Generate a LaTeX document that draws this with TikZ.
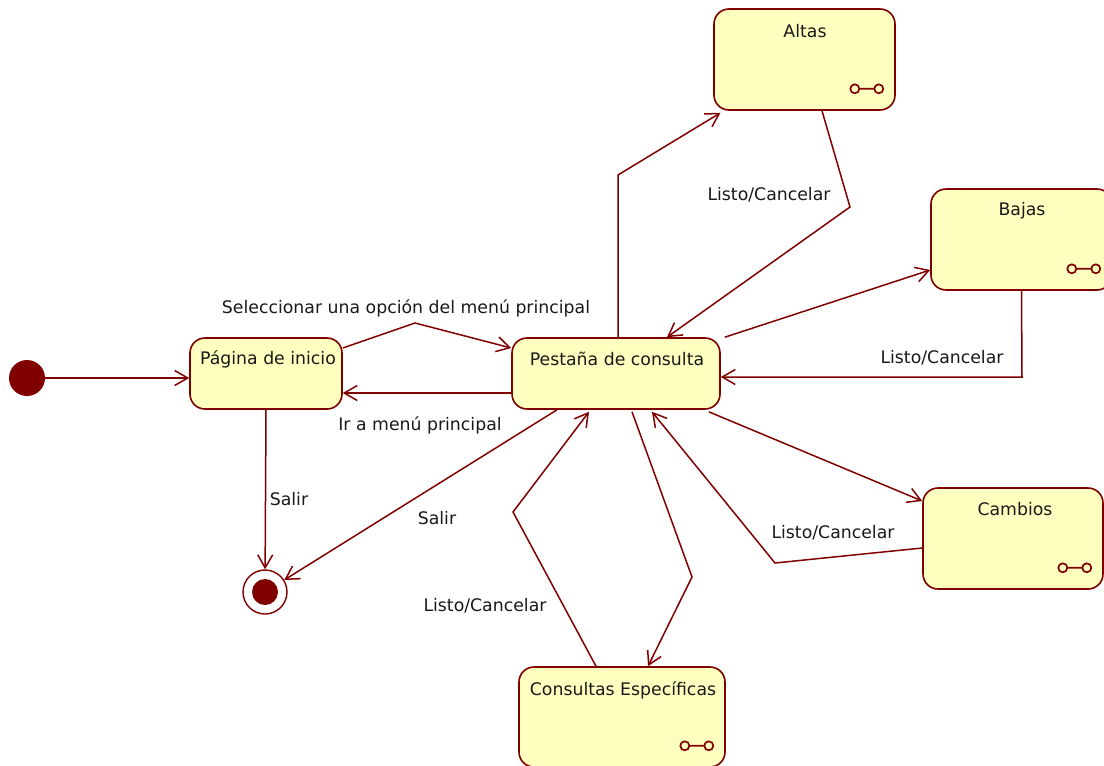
\documentclass[tikz,border=0pt]{standalone}
\usepackage{fontspec}
\setmainfont{DejaVu Sans}
\usetikzlibrary{arrows.meta}
\definecolor{umlred}{RGB}{128,0,0}
\definecolor{umlfill}{RGB}{255,255,192}
\tikzset{
  statebox/.style={draw=umlred, fill=umlfill, line width=1.6pt, rounded corners=15pt, inner sep=0pt},
  conn/.style={draw=umlred, line width=1.5pt, -{Straight Barb[length=13pt,width=15pt,line width=1.5pt]}},
  lbl/.style={font=\fontsize{17.3}{20}\selectfont, text=black!90, inner sep=0pt},
  icon/.style={draw=umlred, line width=1.7pt},
}
\newcommand\subicon[1]{%
  \draw[icon] ([xshift=-41pt,yshift=22pt]#1.south east) circle (4.5pt)
              ([xshift=-17pt,yshift=22pt]#1.south east) circle (4.5pt)
              ([xshift=-36.5pt,yshift=22pt]#1.south east) -- ([xshift=-21.5pt,yshift=22pt]#1.south east);}
\begin{document}
\begin{tikzpicture}[x=1pt,y=-1pt]
\useasboundingbox (0,0) rectangle (1104,766);
% states
\node[statebox, minimum width=152pt, minimum height=71pt] (pag) at (266,373.5) {};
\node[statebox, minimum width=208pt, minimum height=71pt] (pest) at (616,373.5) {};
\node[statebox, minimum width=181pt, minimum height=101pt] (alt) at (804.5,59.5) {};
\node[statebox, minimum width=181pt, minimum height=101pt] (baj) at (1021.5,239.5) {};
\node[statebox, minimum width=180pt, minimum height=101pt] (cam) at (1013,538.5) {};
\node[statebox, minimum width=206pt, minimum height=100pt] (con) at (622,717) {};
% state names
\node[lbl] (tpag) at (268,359) {Página de inicio};
\node[lbl] (tpest) at (617,359) {Pestaña de consulta};
\node[lbl] (talt) at (805,31) {Altas};
\node[lbl] (tbaj) at (1022,211) {Bajas};
\node[lbl] (tcam) at (1015,509) {Cambios};
\node[lbl] (tcon) at (623,690) {Consultas Específicas};
% sub-machine icons
\subicon{alt}
\subicon{baj}
\subicon{cam}
\subicon{con}
% initial / final
\node[circle, fill=umlred, minimum size=36pt, inner sep=0pt] (init) at (27,378) {};
\node[circle, draw=umlred, line width=1.4pt, fill=white, minimum size=44pt, inner sep=0pt] (fin) at (265,592) {};
\node[circle, fill=umlred, minimum size=26pt, inner sep=0pt] (finin) at (fin) {};
% transitions
\draw[conn] (init) -- (init -| pag.west);
\draw[conn] ([yshift=25.5pt]pag.east) -- (415,323) -- ([yshift=25.5pt]pest.west);
\draw[conn] ([yshift=-19.5pt]pest.west) -- ([yshift=-19.5pt]pag.east);
\draw[conn] (pag.south) -- (fin);
\draw[conn] ([xshift=-59pt]pest.south) -- (fin);
\draw[conn] ([xshift=2pt]pest.north) -- (618,175) -- ([xshift=-84pt,yshift=-2pt]alt.south);
\draw[conn] ([xshift=17.5pt]alt.south) -- (850,207) -- ([xshift=51pt]pest.north);
\draw[conn] ([xshift=4pt]pest.north east) -- ([yshift=-30.5pt]baj.west);
\draw[conn] (baj.south) -- (1022,377) -- ([yshift=-3.5pt]pest.east);
\draw[conn] ([xshift=-12pt,yshift=-2pt]pest.south east) -- ([yshift=37.5pt]cam.west);
\draw[conn] ([yshift=-9.5pt]cam.west) -- (775,563) -- ([xshift=36pt,yshift=-2pt]pest.south);
\draw[conn] ([xshift=16pt,yshift=-2pt]pest.south) -- (692,577) -- ([xshift=26pt]con.north);
\draw[conn] ([xshift=-26pt]con.north) -- (513,512) -- ([xshift=-27pt,yshift=-2pt]pest.south);
% transition labels
\node[lbl] (l1) at (406,308) {Seleccionar una opción del menú principal};
\node[lbl] (l2) at (420,425) {Ir a menú principal};
\node[lbl] (l3) at (289,499) {Salir};
\node[lbl] (l4) at (437,518) {Salir};
\node[lbl] (l5) at (769,195) {Listo/Cancelar};
\node[lbl] (l6) at (942,358) {Listo/Cancelar};
\node[lbl] (l7) at (833,533) {Listo/Cancelar};
\node[lbl] (l8) at (485,606) {Listo/Cancelar};
\end{tikzpicture}
\end{document}
